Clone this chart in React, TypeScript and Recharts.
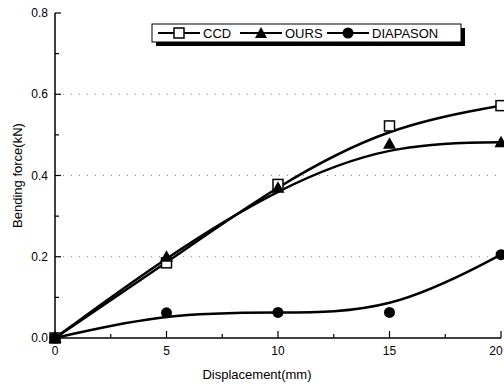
import React from 'react';
import { LineChart, Line, XAxis, YAxis, ReferenceLine } from 'recharts';

const xValues = [0, 5, 10, 15, 20];
const ccd = [0, 0.185, 0.378, 0.522, 0.572];
const ours = [0, 0.2, 0.37, 0.478, 0.482];
const diapason = [0, 0.062, 0.063, 0.063, 0.205];

const seriesNames = ['CCD', 'OURS', 'DIAPASON'];
const xTicks = [0, 2.5, 5, 7.5, 10, 12.5, 15, 17.5, 20];
const yTicks = [0, 0.1, 0.2, 0.3, 0.4, 0.5, 0.6, 0.7, 0.8];
const gridY = [0.2, 0.4, 0.6];

const data = xValues.map((x, i) => ({ x, ccd: ccd[i], ours: ours[i], diapason: diapason[i] }));

const FONT = '"Liberation Sans", Arial, Helvetica, sans-serif';

const SquareDot = (p: any) => (
  <rect x={p.cx - 5} y={p.cy - 5} width={10} height={10} fill="#fff" stroke="#000" strokeWidth={1.5} />
);
const TriDot = (p: any) => (
  <path d={`M${p.cx},${p.cy - 6.5} L${p.cx + 6.5},${p.cy + 5} L${p.cx - 6.5},${p.cy + 5} Z`} fill="#000" />
);
const CircleDot = (p: any) => <circle cx={p.cx} cy={p.cy} r={5.5} fill="#000" />;

const XTick = (p: any) => {
  const { x, y, payload } = p;
  const v = payload.value;
  const major = v % 5 === 0;
  const tx = Math.min(x, 496);
  return (
    <g>
      <line x1={x} x2={x} y1={y} y2={y - (major ? 7 : 4)} stroke="#000" strokeWidth={1.2} />
      {major && (
        <text x={tx} y={y + 17} textAnchor="middle" fontSize={12} fontFamily={FONT} fill="#000">
          {v}
        </text>
      )}
    </g>
  );
};

const YTick = (p: any) => {
  const { x, y, payload } = p;
  const v = payload.value;
  const major = Math.round(v * 10) % 2 === 0;
  return (
    <g>
      <line x1={x} x2={x + (major ? 6 : 4)} y1={y} y2={y} stroke="#000" strokeWidth={1.2} />
      {major && (
        <text x={x - 7} y={y + 4} textAnchor="end" fontSize={12} fontFamily={FONT} fill="#000">
          {v.toFixed(1)}
        </text>
      )}
    </g>
  );
};

const YTitle = (p: any) => {
  const vb = p.viewBox || {};
  const cy = (vb.y ?? 13) + (vb.height ?? 325) / 2;
  return (
    <text
      x={17}
      y={cy}
      transform={`rotate(-90, 17, ${cy})`}
      textAnchor="middle"
      dominantBaseline="central"
      fontSize={13}
      fontFamily={FONT}
      fill="#000"
    >
      Bending force(kN)
    </text>
  );
};

const XTitle = () => (
  <text x={257} y={379} textAnchor="middle" fontSize={13} fontFamily={FONT} fill="#000">
    Displacement(mm)
  </text>
);

const LegendBox = () => {
  const markers = [
    (cx: number, cy: number) => <rect x={cx - 5} y={cy - 5} width={10} height={10} fill="#fff" stroke="#000" strokeWidth={1.5} />,
    (cx: number, cy: number) => <path d={`M${cx},${cy - 6} L${cx + 6},${cy + 5} L${cx - 6},${cy + 5} Z`} fill="#000" />,
    (cx: number, cy: number) => <circle cx={cx} cy={cy} r={5.5} fill="#000" />,
  ];
  const starts = [158, 240, 327];
  const cy = 33;
  return (
    <svg width={504} height={385} style={{ position: 'absolute', left: 0, top: 0, pointerEvents: 'none' }}>
      <rect x={156} y={28} width={309} height={18} fill="#000" />
      <rect x={152} y={24} width={309} height={18} fill="#fff" stroke="#000" strokeWidth={1} />
      {seriesNames.map((name, i) => {
        const s = starts[i];
        return (
          <g key={name}>
            <line x1={s} x2={s + 42} y1={cy} y2={cy} stroke="#000" strokeWidth={2} />
            {markers[i](s + 21, cy)}
            <text x={s + 45} y={cy + 5} fontSize={13} fontFamily={FONT} fill="#000">
              {name}
            </text>
          </g>
        );
      })}
    </svg>
  );
};

export default function App() {
  return (
    <div style={{ position: 'absolute', left: 0, top: 0, width: 504, height: 385, background: '#fff' }}>
      <LineChart width={504} height={385} data={data} margin={{ top: 13, right: 3, bottom: 17, left: 0 }}>
        {gridY.map((g) => (
          <ReferenceLine key={g} y={g} stroke="#888" strokeDasharray="1 7" strokeWidth={1} />
        ))}
        <XAxis
          dataKey="x"
          type="number"
          domain={[0, 20]}
          ticks={xTicks}
          interval={0}
          tickSize={0}
          tickMargin={0}
          tickLine={false}
          tick={<XTick />}
          height={30}
          axisLine={{ stroke: '#000', strokeWidth: 1.5 }}
          label={<XTitle />}
        />
        <XAxis
          xAxisId="top"
          orientation="top"
          dataKey="x"
          type="number"
          domain={[0, 20]}
          tick={false}
          tickLine={false}
          height={0}
          axisLine={{ stroke: '#000', strokeWidth: 1.5 }}
        />
        <YAxis
          type="number"
          domain={[0, 0.8]}
          ticks={yTicks}
          interval={0}
          tickSize={0}
          tickMargin={0}
          tickLine={false}
          tick={<YTick />}
          width={55}
          axisLine={{ stroke: '#000', strokeWidth: 1.5 }}
          label={<YTitle />}
        />
        <YAxis
          yAxisId="right"
          orientation="right"
          type="number"
          domain={[0, 0.8]}
          tick={false}
          tickLine={false}
          width={0}
          axisLine={{ stroke: '#000', strokeWidth: 1.5 }}
        />
        <Line dataKey="ccd" type="basis" stroke="#000" strokeWidth={2.5} dot={<SquareDot />} activeDot={false} isAnimationActive={false} />
        <Line dataKey="ours" type="basis" stroke="#000" strokeWidth={2.5} dot={<TriDot />} activeDot={false} isAnimationActive={false} />
        <Line dataKey="diapason" type="basis" stroke="#000" strokeWidth={2.5} dot={<CircleDot />} activeDot={false} isAnimationActive={false} />
      </LineChart>
      <LegendBox />
    </div>
  );
}
